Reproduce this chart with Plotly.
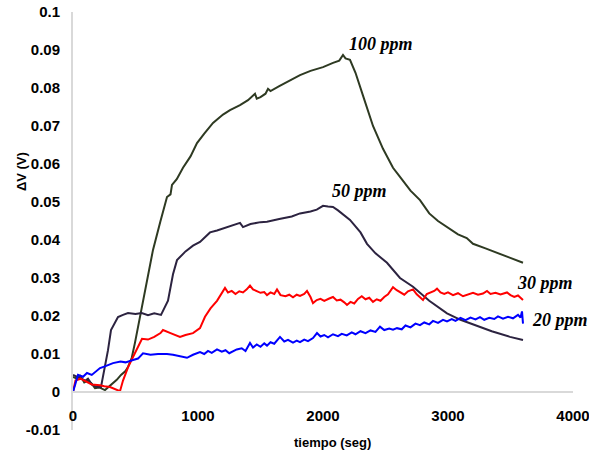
import plotly.graph_objects as go

# ---- data ----
t_100 = [0, 30, 60, 90, 120, 150, 176, 210, 256, 304, 350, 384, 420, 440, 470, 496, 520, 536, 560, 600,
         640, 700, 752, 780, 792, 830, 880, 940, 992, 1050, 1120, 1200, 1256, 1336, 1400, 1456, 1470,
         1500, 1540, 1560, 1580, 1650, 1750, 1816, 1900, 2000, 2080, 2130, 2160, 2180, 2216, 2260, 2320,
         2400, 2480, 2560, 2616, 2700, 2776, 2850, 2920, 2992, 3080, 3150, 3200, 3300, 3392, 3450, 3500,
         3560, 3600]
v_100 = [0.004, 0.0035, 0.0042, 0.0025, 0.003, 0.0022, 0.001, 0.0012, 0.0005, 0.0018, 0.0032, 0.0045,
         0.0055, 0.0066, 0.009, 0.013, 0.017, 0.0197, 0.024, 0.031, 0.0374, 0.045, 0.0513, 0.052, 0.0545,
         0.056, 0.059, 0.062, 0.0655, 0.068, 0.0708, 0.073, 0.0742, 0.0755, 0.0768, 0.0785, 0.0772,
         0.0776, 0.0785, 0.0798, 0.0792, 0.0805, 0.0822, 0.0834, 0.0845, 0.0855, 0.0866, 0.0872, 0.0887,
         0.0878, 0.0874, 0.084, 0.078, 0.070, 0.064, 0.059, 0.0566, 0.053, 0.0505, 0.047, 0.045, 0.0434,
         0.0415, 0.0405, 0.039, 0.0378, 0.0366, 0.036, 0.0352, 0.0345, 0.034]

t_50 = [0, 30, 60, 100, 120, 150, 180, 200, 224, 256, 280, 304, 330, 360, 400, 440, 500, 550, 600, 650,
        704, 736, 760, 800, 832, 900, 960, 1016, 1096, 1152, 1200, 1280, 1336, 1360, 1420, 1500, 1552,
        1650, 1750, 1816, 1900, 1950, 2000, 2040, 2080, 2120, 2216, 2300, 2352, 2420, 2512, 2616, 2720,
        2850, 2992, 3100, 3256, 3350, 3496, 3550, 3600]
v_50 = [0.0045, 0.004, 0.0035, 0.003, 0.0035, 0.002, 0.0015, 0.0013, 0.0013, 0.0066, 0.011, 0.0163,
        0.018, 0.0197, 0.0203, 0.0208, 0.0205, 0.0208, 0.0202, 0.0207, 0.0203, 0.0224, 0.024, 0.031,
        0.0347, 0.037, 0.0385, 0.0395, 0.042, 0.0425, 0.043, 0.0438, 0.0445, 0.0434, 0.0442, 0.0447,
        0.0448, 0.0455, 0.0462, 0.047, 0.0475, 0.048, 0.049, 0.0488, 0.0487, 0.0478, 0.0453, 0.042,
        0.039, 0.0365, 0.034, 0.030, 0.0277, 0.024, 0.0207, 0.019, 0.017, 0.016, 0.0145, 0.014, 0.0137]

t_30 = [0, 20, 60, 100, 150, 216, 250, 296, 340, 376, 400, 440, 480, 520, 552, 600, 650, 700, 720, 780,
        856, 900, 960, 1016, 1056, 1100, 1152, 1216, 1240, 1270, 1300, 1330, 1360, 1390, 1416, 1440,
        1470, 1500, 1530, 1552, 1580, 1610, 1632, 1660, 1700, 1730, 1760, 1790, 1816, 1850, 1872, 1900,
        1920, 1950, 1980, 2010, 2050, 2080, 2110, 2140, 2170, 2192, 2220, 2250, 2280, 2310, 2340, 2370,
        2400, 2430, 2460, 2490, 2520, 2560, 2590, 2620, 2650, 2680, 2720, 2750, 2780, 2800, 2830, 2860,
        2890, 2912, 2940, 2970, 3000, 3040, 3080, 3120, 3160, 3200, 3240, 3280, 3312, 3340, 3380, 3420,
        3472, 3500, 3530, 3560, 3600]
v_30 = [0.0, 0.003, 0.0035, 0.0028, 0.002, 0.0018, 0.0015, 0.0013, 0.0008, 0.0002, 0.003, 0.0065,
        0.0092, 0.012, 0.014, 0.0138, 0.0145, 0.0155, 0.0163, 0.0155, 0.0145, 0.015, 0.0155, 0.0168,
        0.0198, 0.022, 0.024, 0.0274, 0.0262, 0.0266, 0.0258, 0.0265, 0.0262, 0.0270, 0.0280, 0.0270,
        0.0266, 0.0261, 0.0263, 0.0255, 0.0262, 0.0258, 0.0270, 0.0255, 0.0252, 0.0256, 0.0249, 0.0256,
        0.0253, 0.0258, 0.0266, 0.0250, 0.0234, 0.0242, 0.0245, 0.0240, 0.0246, 0.0250, 0.0241, 0.0243,
        0.0236, 0.0229, 0.0237, 0.0233, 0.0245, 0.0252, 0.0244, 0.0248, 0.0237, 0.0244, 0.0240, 0.0250,
        0.0257, 0.0276, 0.0268, 0.0262, 0.0256, 0.0265, 0.0270, 0.0257, 0.0249, 0.0242, 0.0258, 0.0262,
        0.0266, 0.0272, 0.0262, 0.0258, 0.0262, 0.0255, 0.0260, 0.0252, 0.0257, 0.0261, 0.0256, 0.0259,
        0.0266, 0.0258, 0.0261, 0.0257, 0.0262, 0.0255, 0.0250, 0.0254, 0.0242]

t_20 = [0, 40, 80, 112, 150, 192, 216, 260, 320, 380, 420, 480, 520, 560, 620, 680, 752, 800, 850, 912,
        960, 1016, 1050, 1080, 1110, 1152, 1190, 1220, 1250, 1280, 1310, 1350, 1380, 1416, 1440, 1470,
        1500, 1530, 1552, 1580, 1610, 1656, 1690, 1720, 1760, 1790, 1816, 1850, 1880, 1920, 1952, 1980,
        2010, 2040, 2080, 2120, 2150, 2190, 2230, 2260, 2300, 2340, 2380, 2420, 2456, 2490, 2530, 2560,
        2592, 2630, 2660, 2700, 2740, 2776, 2810, 2850, 2880, 2920, 2960, 2992, 3030, 3060, 3100, 3140,
        3180, 3220, 3256, 3290, 3330, 3370, 3400, 3440, 3480, 3520, 3560, 3580, 3592, 3600]
v_20 = [0.0, 0.0045, 0.004, 0.005, 0.0045, 0.0058, 0.0063, 0.0068, 0.0076, 0.008, 0.0078, 0.0084,
        0.0088, 0.0102, 0.0098, 0.01, 0.01, 0.0098, 0.0095, 0.009, 0.0098, 0.0105, 0.0100, 0.0108, 0.0103,
        0.0112, 0.0106, 0.0110, 0.0102, 0.0106, 0.0112, 0.0115, 0.0108, 0.0129, 0.0117, 0.0125, 0.0119,
        0.0128, 0.0122, 0.0131, 0.0127, 0.0145, 0.0133, 0.0137, 0.0130, 0.0135, 0.0131, 0.0138, 0.0134,
        0.0142, 0.0155, 0.0146, 0.0150, 0.0144, 0.0152, 0.0147, 0.0153, 0.0149, 0.0157, 0.0152, 0.0160,
        0.0155, 0.0162, 0.0158, 0.0172, 0.0163, 0.0167, 0.0164, 0.0168, 0.0165, 0.0175, 0.0170, 0.0180,
        0.0176, 0.0183, 0.0178, 0.0187, 0.0182, 0.0190, 0.0186, 0.0192, 0.0187, 0.0195, 0.0189, 0.0196,
        0.0191, 0.0197, 0.0190, 0.0195, 0.0192, 0.0199, 0.0193, 0.0198, 0.0194, 0.0203, 0.0196, 0.0212,
        0.0180]

series_names = ["100 ppm", "50 ppm", "30 ppm", "20 ppm"]
x_ticks = [0, 1000, 2000, 3000, 4000]
y_ticks = [-0.01, 0, 0.01, 0.02, 0.03, 0.04, 0.05, 0.06, 0.07, 0.08, 0.09, 0.1]
y_tick_text = ["-0.01", "0", "0.01", "0.02", "0.03", "0.04", "0.05", "0.06", "0.07", "0.08", "0.09", "0.1"]

# label anchor positions (data coords)
label_pos = {"100 ppm": (2192, 0.0916), "50 ppm": (2056, 0.0529),
             "30 ppm": (3536, 0.0287), "20 ppm": (3656, 0.019)}

colors = ["#2e3a22", "#2c2340", "#ff0000", "#0000ff"]
data = [(t_100, v_100), (t_50, v_50), (t_30, v_30), (t_20, v_20)]

fig = go.Figure()
for (t, v), name, c in zip(data, series_names, colors):
    fig.add_trace(go.Scatter(x=t, y=v, mode="lines", name=name,
                             line=dict(color=c, width=2), showlegend=False, cliponaxis=False))

for name in series_names:
    x, y = label_pos[name]
    fig.add_annotation(x=x, y=y, xref="x", yref="y", text=name, showarrow=False,
                       xanchor="left", yanchor="middle",
                       font=dict(family="Liberation Serif", size=18, color="black",
                                 weight="bold", style="italic"))

fig.add_annotation(x=-0.104, y=0.617, xref="paper", yref="paper", text="ΔV (V)",
                   showarrow=False, textangle=-90, xanchor="center", yanchor="middle",
                   font=dict(family="Liberation Sans", size=13, color="black", weight="bold"))
fig.add_annotation(x=0.518, y=-0.031, xref="paper", yref="paper", text="tiempo (seg)",
                   showarrow=False, xanchor="center", yanchor="middle",
                   font=dict(family="Liberation Sans", size=13, color="black", weight="bold"))

fig.update_layout(
    width=589, height=454, autosize=False,
    margin=dict(l=73, r=16, t=12, b=24, autoexpand=False),
    paper_bgcolor="white", plot_bgcolor="white",
    xaxis=dict(range=[0, 4000], tickvals=x_ticks, showgrid=False, zeroline=False, automargin=False,
               showline=True, linecolor="#d9d9d9", linewidth=2, ticklabeloverflow="allow",
               anchor="free", position=0.0909, ticks="", ticklabelstandoff=10,
               tickfont=dict(family="Liberation Sans", size=15, color="black", weight="bold")),
    yaxis=dict(range=[-0.01, 0.1], tickvals=y_ticks, ticktext=y_tick_text, showgrid=False,
               automargin=False, ticklabeloverflow="allow",
               zeroline=False, showline=True, linecolor="#d9d9d9", linewidth=2, ticks="",
               ticklabelstandoff=8,
               tickfont=dict(family="Liberation Sans", size=15, color="black", weight="bold")),
)

fig.write_html("out.html", config={"responsive": False, "displayModeBar": False},
               post_script="document.body.style.margin='0';document.body.style.overflow='hidden';")
